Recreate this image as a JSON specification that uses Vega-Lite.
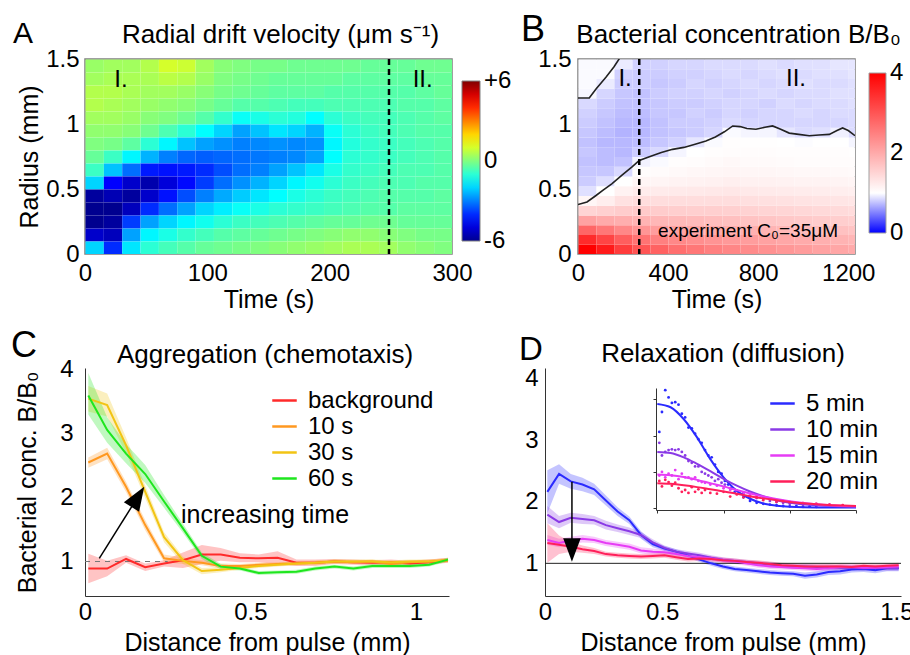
{
"$schema": "https://vega.github.io/schema/vega-lite/v6.json",
"padding": {"left": 10, "top": 11, "right": 2, "bottom": 2},
"spacing": 14,
"resolve": {"scale": {"color": "independent", "stroke": "independent", "fill": "independent"}, "legend": {"color": "independent", "stroke": "independent", "fill": "independent"}},
"vconcat": [
{"hconcat": [
 {"width": 367, "height": 195,
  "view": {"stroke": "#808080", "strokeWidth": 1.5},
  "title": {"text": "Radial drift velocity  (μm s⁻¹)", "dx": 12, "offset": -29, "frame": "group"},
  "layer": [
   {"data": {"name": "A"}, "mark": {"type": "rect", "clip": true, "binSpacing": 0},
    "encoding": {
     "x": {"field": "t", "type": "quantitative", "bin": {"binned": true, "step": 15}, "scale": {"domain": [0, 300], "nice": false, "zero": false}, "axis": {"values": [0, 100, 200, 300], "title": "Time (s)", "format": "d", "labelPadding": 7, "titlePadding": 2, "domain": false}},
     "y": {"field": "r", "type": "quantitative", "bin": {"binned": true, "step": 0.1}, "scale": {"domain": [0, 1.5], "nice": false, "zero": false}, "axis": {"values": [0, 0.5, 1, 1.5], "title": "Radius (mm)", "format": "~g", "labelPadding": 6, "titlePadding": 3, "domain": false}},
     "color": {"field": "v", "type": "quantitative", "scale": {"domain": [-6, -4.5, -1.5, 1.5, 4.5, 6], "range": ["#00008f", "#0000ff", "#00ffff", "#ffff00", "#ff0000", "#800000"], "interpolate": "rgb"},
       "legend": {"type": "gradient", "orient": "none", "legendX": 377, "legendY": 22, "direction": "vertical", "title": null, "gradientLength": 160, "gradientThickness": 18, "values": [-6, 0, 6], "labelExpr": "datum.value > 0 ? '+6' : datum.value < 0 ? '-6' : '0'", "labelFontSize": 24, "labelOffset": 4, "labelOverlap": false, "gradientStrokeColor": "#808080", "gradientStrokeWidth": 1, "encode": {"labels": {"update": {"baseline": {"value": "middle"}}}}}}
    }},
   {"data": {"values": [{}]}, "mark": {"type": "rule", "strokeDash": [6, 4], "strokeWidth": 2.5, "color": "black"}, "encoding": {"x": {"datum": 248.5}}},
   {"data": {"values": [{}]}, "mark": {"type": "text", "fontSize": 24, "align": "center", "baseline": "middle"}, "encoding": {"x": {"datum": 29.4}, "y": {"datum": 1.338}, "text": {"value": "I."}}},
   {"data": {"values": [{}]}, "mark": {"type": "text", "fontSize": 24, "align": "center", "baseline": "middle"}, "encoding": {"x": {"datum": 276}, "y": {"datum": 1.338}, "text": {"value": "II."}}},
   {"data": {"values": [{}]}, "mark": {"type": "text", "fontSize": 30, "align": "left", "baseline": "alphabetic"}, "encoding": {"x": {"datum": -58.9}, "y": {"datum": 1.625}, "text": {"value": "A"}}}
  ]},
 {"width": 277, "height": 195,
  "view": {"stroke": "#808080", "strokeWidth": 1.5},
  "title": {"text": "Bacterial concentration B/B₀", "dx": 22, "offset": -36, "frame": "group"},
  "layer": [
   {"data": {"name": "B"}, "mark": {"type": "rect", "clip": true, "binSpacing": 0},
    "encoding": {
     "x": {"field": "t", "type": "quantitative", "bin": {"binned": true, "step": 80}, "scale": {"domain": [0, 1230], "nice": false, "zero": false}, "axis": {"values": [0, 400, 800, 1200], "title": "Time (s)", "format": "d", "labelPadding": 7, "titlePadding": 2, "domain": false}},
     "y": {"field": "r", "type": "quantitative", "bin": {"binned": true, "step": 0.075}, "scale": {"domain": [0, 1.5], "nice": false, "zero": false}, "axis": {"values": [0, 0.5, 1, 1.5], "title": null, "format": "~g", "labelPadding": 7, "domain": false}},
     "color": {"field": "v", "type": "quantitative", "scale": {"domain": [0, 1, 4], "range": ["#0000ff", "#ffffff", "#ff0000"], "interpolate": "rgb"},
       "legend": {"type": "gradient", "orient": "none", "legendX": 291, "legendY": 14, "direction": "vertical", "title": null, "gradientLength": 160, "gradientThickness": 17, "values": [0, 2, 4], "labelFontSize": 24, "labelOffset": 4, "labelOverlap": false, "format": "d", "gradientStrokeColor": "#a0a0a0", "gradientStrokeWidth": 1, "encode": {"labels": {"update": {"baseline": {"value": "middle"}}}}}}
    }},
   {"data": {"name": "Bc"}, "mark": {"type": "line", "color": "#222222", "strokeWidth": 1.6, "clip": true}, "encoding": {"x": {"field": "t", "type": "quantitative"}, "y": {"field": "r", "type": "quantitative"}, "detail": {"field": "c"}}},
   {"data": {"values": [{}]}, "mark": {"type": "rule", "strokeDash": [6, 4], "strokeWidth": 2.5, "color": "black"}, "encoding": {"x": {"datum": 272}}},
   {"data": {"values": [{}]}, "mark": {"type": "text", "fontSize": 24, "align": "center", "baseline": "middle"}, "encoding": {"x": {"datum": 209}, "y": {"datum": 1.346}, "text": {"value": "I."}}},
   {"data": {"values": [{}]}, "mark": {"type": "text", "fontSize": 24, "align": "center", "baseline": "middle"}, "encoding": {"x": {"datum": 968}, "y": {"datum": 1.346}, "text": {"value": "II."}}},
   {"data": {"values": [{}]}, "mark": {"type": "text", "fontSize": 19, "align": "center", "baseline": "middle"}, "encoding": {"x": {"datum": 755}, "y": {"datum": 0.177}, "text": {"value": "experiment C₀=35μM"}}},
   {"data": {"values": [{}]}, "mark": {"type": "text", "fontSize": 36, "align": "left", "baseline": "alphabetic"}, "encoding": {"x": {"datum": -253}, "y": {"datum": 1.638}, "text": {"value": "B"}}}
  ]}
 ], "spacing": 126, "bounds": "flush",
 "resolve": {"scale": {"color": "independent"}, "legend": {"color": "independent"}}},
{"hconcat": [
 {"width": 364, "height": 228,
  "title": {"text": "Aggregation (chemotaxis)", "dx": -2, "offset": -40, "frame": "group"},
  "layer": [
   {"data": {"name": "C"}, "mark": {"type": "area", "fillOpacity": 0.28},
    "encoding": {
     "x": {"field": "x", "type": "quantitative", "scale": {"domain": [0, 1.1], "nice": false, "zero": false}, "axis": {"values": [0, 0.5, 1], "format": "~g", "title": "Distance from pulse (mm)", "labelPadding": 4, "titlePadding": 6}},
     "y": {"field": "lo", "type": "quantitative", "scale": {"domain": [0.46, 4.03], "nice": false, "zero": false}, "axis": {"values": [1, 2, 3, 4], "format": "~g", "title": "Bacterial conc. B/B₀", "labelPadding": 12, "titlePadding": 19}},
     "y2": {"field": "hi"},
     "fill": {"field": "s", "type": "nominal", "scale": {"domain": ["60 s", "30 s", "10 s", "background"], "range": ["#1ee61e", "#f2c414", "#ff9820", "#ff2a2a"]}, "legend": null}
    }},
   {"data": {"values": [{}]}, "mark": {"type": "rule", "strokeDash": [5, 5], "strokeWidth": 1, "color": "#777777"}, "encoding": {"x": {"datum": 0}, "x2": {"datum": 0.25}, "y": {"datum": 1}}},
   {"data": {"name": "C"}, "mark": {"type": "line", "strokeWidth": 2},
    "encoding": {
     "x": {"field": "x", "type": "quantitative"},
     "y": {"field": "y", "type": "quantitative"},
     "stroke": {"field": "s", "type": "nominal", "scale": {"domain": ["background", "10 s", "30 s", "60 s"], "range": ["#ff2a2a", "#ff9820", "#f2c414", "#1ee61e"]},
       "legend": {"orient": "none", "legendX": 186, "legendY": 19, "title": null, "symbolType": "stroke", "symbolSize": 600, "symbolStrokeWidth": 2.5, "labelFontSize": 24, "labelOffset": 10, "rowPadding": 0}}
    }},
   {"data": {"values": [{}]}, "mark": {"type": "rule", "strokeWidth": 1.5, "color": "black"}, "encoding": {"x": {"datum": 0.0432}, "y": {"datum": 1.05}, "x2": {"datum": 0.154}, "y2": {"datum": 1.965}}},
   {"data": {"values": [{}]}, "mark": {"type": "point", "shape": "M0,-1.3L-0.75,0.7L0.75,0.7Z", "filled": true, "color": "black", "opacity": 1, "size": 576, "angle": 32}, "encoding": {"x": {"datum": 0.154}, "y": {"datum": 1.965}}},
   {"data": {"values": [{}]}, "mark": {"type": "text", "fontSize": 25, "align": "left", "baseline": "middle"}, "encoding": {"x": {"datum": 0.29}, "y": {"datum": 1.736}, "text": {"value": "increasing time"}}},
   {"data": {"values": [{}]}, "mark": {"type": "text", "fontSize": 36, "align": "left", "baseline": "alphabetic"}, "encoding": {"x": {"datum": -0.224}, "y": {"datum": 4.207}, "text": {"value": "C"}}}
  ]},
 {"width": 356, "height": 228,
  "title": {"text": "Relaxation (diffusion)", "offset": -33, "frame": "group"},
  "resolve": {"scale": {"x": "independent", "y": "independent"}},
  "layer": [
   {"layer": [
    {"data": {"name": "D"}, "mark": {"type": "area", "fillOpacity": 0.28},
     "encoding": {
      "x": {"field": "x", "type": "quantitative", "scale": {"domain": [0, 1.52], "nice": false, "zero": false}, "axis": {"values": [0, 0.5, 1, 1.5], "format": "~g", "title": "Distance from pulse (mm)", "labelPadding": 4, "titlePadding": 6}},
      "y": {"field": "lo", "type": "quantitative", "scale": {"domain": [0.47, 4.17], "nice": false, "zero": false}, "axis": {"values": [1, 2, 3, 4], "format": "~g", "title": null, "labelPadding": 7}},
      "y2": {"field": "hi"},
      "fill": {"field": "s", "type": "nominal", "scale": {"domain": ["20 min", "15 min", "10 min", "5 min"], "range": ["#ff1f5a", "#e63cf5", "#8a3ae6", "#2b2bff"]}, "legend": null}
     }},
    {"data": {"values": [{}]}, "mark": {"type": "rule", "strokeWidth": 1, "color": "#222222"}, "encoding": {"y": {"datum": 1}}},
    {"data": {"name": "D"}, "mark": {"type": "line", "strokeWidth": 2},
     "encoding": {
      "x": {"field": "x", "type": "quantitative"},
      "y": {"field": "y", "type": "quantitative"},
      "stroke": {"field": "s", "type": "nominal", "scale": {"domain": ["5 min", "10 min", "15 min", "20 min"], "range": ["#2b2bff", "#8a3ae6", "#e63cf5", "#ff1f5a"]},
        "legend": {"orient": "none", "legendX": 224, "legendY": 22, "title": null, "symbolType": "stroke", "symbolSize": 600, "symbolStrokeWidth": 2.5, "labelFontSize": 24, "labelOffset": 10, "rowPadding": 0}}
     }},
    {"data": {"values": [{}]}, "mark": {"type": "rule", "strokeWidth": 1.5, "color": "black"}, "encoding": {"x": {"datum": 0.115}, "y": {"datum": 2.325}, "y2": {"datum": 1.273}}},
    {"data": {"values": [{}]}, "mark": {"type": "point", "shape": "M0,-1.3L-0.75,0.7L0.75,0.7Z", "filled": true, "color": "black", "opacity": 1, "size": 548, "angle": 180}, "encoding": {"x": {"datum": 0.115}, "y": {"datum": 1.273}}},
    {"data": {"values": [{}]}, "mark": {"type": "text", "fontSize": 33, "align": "left", "baseline": "alphabetic"}, "encoding": {"x": {"datum": -0.111}, "y": {"datum": 4.30}, "text": {"value": "D"}}}
   ]},
   {"layer": [
    {"data": {"name": "Ed"}, "mark": {"type": "point", "filled": true, "size": 8, "opacity": 1},
     "encoding": {
      "x": {"field": "x", "type": "quantitative", "scale": {"domain": [-0.02, 3.0], "range": [111, 311], "nice": false, "zero": false}, "axis": {"orient": "bottom", "offset": -86, "values": [0, 1, 2, 3], "labels": false, "title": null, "ticks": true, "tickSize": 3, "tickColor": "#333333", "domainColor": "#333333"}},
      "y": {"field": "y", "type": "quantitative", "scale": {"domain": [-0.05, 3.31], "range": [142, 20], "nice": false, "zero": false}, "axis": {"orient": "left", "offset": -111, "values": [0, 1, 2, 3], "labels": false, "title": null, "ticks": true, "tickSize": 3, "tickColor": "#333333", "domainColor": "#333333"}},
      "fill": {"field": "s", "type": "nominal", "scale": {"domain": ["20 min", "15 min", "10 min", "5 min"], "range": ["#ff1f5a", "#e63cf5", "#8a3ae6", "#2b2bff"]}, "legend": null}
     }},
    {"data": {"name": "Ef"}, "mark": {"type": "line", "strokeWidth": 2, "interpolate": "monotone"},
     "encoding": {
      "x": {"field": "x", "type": "quantitative"},
      "y": {"field": "y", "type": "quantitative"},
      "stroke": {"field": "s", "type": "nominal", "scale": {"domain": ["5 min", "10 min", "15 min", "20 min"], "range": ["#2b2bff", "#8a3ae6", "#e63cf5", "#ff1f5a"]}, "legend": null}
     }}
   ]}
  ]}
 ], "spacing": 96, "bounds": "flush",
 "resolve": {"scale": {"stroke": "independent", "fill": "independent"}, "legend": {"stroke": "independent", "fill": "independent"}}}
],
"datasets": {
"A": [
{"t":0,"r":1.4,"v":0.3},{"t":15,"r":1.4,"v":0.4},{"t":30,"r":1.4,"v":0.4},{"t":45,"r":1.4,"v":0.6},{"t":60,"r":1.4,"v":1.0},{"t":75,"r":1.4,"v":0.9},{"t":90,"r":1.4,"v":0.4},{"t":105,"r":1.4,"v":0.1},{"t":120,"r":1.4,"v":0},{"t":135,"r":1.4,"v":-0.1},{"t":150,"r":1.4,"v":-0.1},{"t":165,"r":1.4,"v":-0.2},{"t":180,"r":1.4,"v":-0.2},{"t":195,"r":1.4,"v":-0.2},{"t":210,"r":1.4,"v":-0.2},{"t":225,"r":1.4,"v":-0.3},{"t":240,"r":1.4,"v":-0.3},{"t":255,"r":1.4,"v":-0.3},{"t":270,"r":1.4,"v":-0.2},{"t":285,"r":1.4,"v":-0.2},
{"t":0,"r":1.3,"v":0.4},{"t":15,"r":1.3,"v":0.5},{"t":30,"r":1.3,"v":0.5},{"t":45,"r":1.3,"v":0.5},{"t":60,"r":1.3,"v":0.7},{"t":75,"r":1.3,"v":0.6},{"t":90,"r":1.3,"v":0.3},{"t":105,"r":1.3,"v":0},{"t":120,"r":1.3,"v":-0.1},{"t":135,"r":1.3,"v":-0.2},{"t":150,"r":1.3,"v":-0.3},{"t":165,"r":1.3,"v":-0.3},{"t":180,"r":1.3,"v":-0.3},{"t":195,"r":1.3,"v":-0.3},{"t":210,"r":1.3,"v":-0.4},{"t":225,"r":1.3,"v":-0.4},{"t":240,"r":1.3,"v":-0.4},{"t":255,"r":1.3,"v":-0.4},{"t":270,"r":1.3,"v":-0.3},{"t":285,"r":1.3,"v":-0.3},
{"t":0,"r":1.2,"v":0.6},{"t":15,"r":1.2,"v":0.6},{"t":30,"r":1.2,"v":0.5},{"t":45,"r":1.2,"v":0.4},{"t":60,"r":1.2,"v":0.4},{"t":75,"r":1.2,"v":0.3},{"t":90,"r":1.2,"v":0.1},{"t":105,"r":1.2,"v":-0.1},{"t":120,"r":1.2,"v":-0.2},{"t":135,"r":1.2,"v":-0.3},{"t":150,"r":1.2,"v":-0.4},{"t":165,"r":1.2,"v":-0.4},{"t":180,"r":1.2,"v":-0.4},{"t":195,"r":1.2,"v":-0.5},{"t":210,"r":1.2,"v":-0.5},{"t":225,"r":1.2,"v":-0.5},{"t":240,"r":1.2,"v":-0.5},{"t":255,"r":1.2,"v":-0.5},{"t":270,"r":1.2,"v":-0.4},{"t":285,"r":1.2,"v":-0.3},
{"t":0,"r":1.1,"v":0.6},{"t":15,"r":1.1,"v":0.5},{"t":30,"r":1.1,"v":0.4},{"t":45,"r":1.1,"v":0.3},{"t":60,"r":1.1,"v":0.2},{"t":75,"r":1.1,"v":0.1},{"t":90,"r":1.1,"v":-0.1},{"t":105,"r":1.1,"v":-0.3},{"t":120,"r":1.1,"v":-0.5},{"t":135,"r":1.1,"v":-0.5},{"t":150,"r":1.1,"v":-0.6},{"t":165,"r":1.1,"v":-0.7},{"t":180,"r":1.1,"v":-0.7},{"t":195,"r":1.1,"v":-0.6},{"t":210,"r":1.1,"v":-0.6},{"t":225,"r":1.1,"v":-0.6},{"t":240,"r":1.1,"v":-0.6},{"t":255,"r":1.1,"v":-0.5},{"t":270,"r":1.1,"v":-0.5},{"t":285,"r":1.1,"v":-0.4},
{"t":0,"r":1.0,"v":0.4},{"t":15,"r":1.0,"v":0.4},{"t":30,"r":1.0,"v":0.3},{"t":45,"r":1.0,"v":0.1},{"t":60,"r":1.0,"v":0},{"t":75,"r":1.0,"v":-0.2},{"t":90,"r":1.0,"v":-0.5},{"t":105,"r":1.0,"v":-0.9},{"t":120,"r":1.0,"v":-1.4},{"t":135,"r":1.0,"v":-1.2},{"t":150,"r":1.0,"v":-1.0},{"t":165,"r":1.0,"v":-1.1},{"t":180,"r":1.0,"v":-1.5},{"t":195,"r":1.0,"v":-1.0},{"t":210,"r":1.0,"v":-0.8},{"t":225,"r":1.0,"v":-0.7},{"t":240,"r":1.0,"v":-0.7},{"t":255,"r":1.0,"v":-0.6},{"t":270,"r":1.0,"v":-0.5},{"t":285,"r":1.0,"v":-0.4},
{"t":0,"r":0.9,"v":0.2},{"t":15,"r":0.9,"v":0.2},{"t":30,"r":0.9,"v":0.1},{"t":45,"r":0.9,"v":-0.2},{"t":60,"r":0.9,"v":-0.6},{"t":75,"r":0.9,"v":-1.0},{"t":90,"r":0.9,"v":-1.5},{"t":105,"r":0.9,"v":-2.0},{"t":120,"r":0.9,"v":-2.6},{"t":135,"r":0.9,"v":-2.2},{"t":150,"r":0.9,"v":-1.8},{"t":165,"r":0.9,"v":-2.0},{"t":180,"r":0.9,"v":-2.4},{"t":195,"r":0.9,"v":-1.4},{"t":210,"r":0.9,"v":-1.0},{"t":225,"r":0.9,"v":-0.8},{"t":240,"r":0.9,"v":-0.7},{"t":255,"r":0.9,"v":-0.6},{"t":270,"r":0.9,"v":-0.5},{"t":285,"r":0.9,"v":-0.5},
{"t":0,"r":0.8,"v":0},{"t":15,"r":0.8,"v":-0.1},{"t":30,"r":0.8,"v":-0.4},{"t":45,"r":0.8,"v":-1.0},{"t":60,"r":0.8,"v":-1.6},{"t":75,"r":0.8,"v":-2.2},{"t":90,"r":0.8,"v":-2.6},{"t":105,"r":0.8,"v":-2.8},{"t":120,"r":0.8,"v":-3.0},{"t":135,"r":0.8,"v":-2.9},{"t":150,"r":0.8,"v":-2.8},{"t":165,"r":0.8,"v":-2.9},{"t":180,"r":0.8,"v":-2.8},{"t":195,"r":0.8,"v":-1.6},{"t":210,"r":0.8,"v":-1.1},{"t":225,"r":0.8,"v":-0.9},{"t":240,"r":0.8,"v":-0.8},{"t":255,"r":0.8,"v":-0.7},{"t":270,"r":0.8,"v":-0.6},{"t":285,"r":0.8,"v":-0.5},
{"t":0,"r":0.7,"v":-0.3},{"t":15,"r":0.7,"v":-0.8},{"t":30,"r":0.7,"v":-1.6},{"t":45,"r":0.7,"v":-2.4},{"t":60,"r":0.7,"v":-3.0},{"t":75,"r":0.7,"v":-3.3},{"t":90,"r":0.7,"v":-3.4},{"t":105,"r":0.7,"v":-3.3},{"t":120,"r":0.7,"v":-3.2},{"t":135,"r":0.7,"v":-3.1},{"t":150,"r":0.7,"v":-3.0},{"t":165,"r":0.7,"v":-2.9},{"t":180,"r":0.7,"v":-2.6},{"t":195,"r":0.7,"v":-1.5},{"t":210,"r":0.7,"v":-1.0},{"t":225,"r":0.7,"v":-0.9},{"t":240,"r":0.7,"v":-0.8},{"t":255,"r":0.7,"v":-0.7},{"t":270,"r":0.7,"v":-0.6},{"t":285,"r":0.7,"v":-0.5},
{"t":0,"r":0.6,"v":-0.8},{"t":15,"r":0.6,"v":-2.2},{"t":30,"r":0.6,"v":-3.2},{"t":45,"r":0.6,"v":-4.2},{"t":60,"r":0.6,"v":-4.3},{"t":75,"r":0.6,"v":-4.2},{"t":90,"r":0.6,"v":-4.0},{"t":105,"r":0.6,"v":-3.6},{"t":120,"r":0.6,"v":-3.2},{"t":135,"r":0.6,"v":-3.0},{"t":150,"r":0.6,"v":-2.6},{"t":165,"r":0.6,"v":-2.2},{"t":180,"r":0.6,"v":-1.8},{"t":195,"r":0.6,"v":-1.2},{"t":210,"r":0.6,"v":-0.9},{"t":225,"r":0.6,"v":-0.8},{"t":240,"r":0.6,"v":-0.7},{"t":255,"r":0.6,"v":-0.6},{"t":270,"r":0.6,"v":-0.6},{"t":285,"r":0.6,"v":-0.5},
{"t":0,"r":0.5,"v":-2.0},{"t":15,"r":0.5,"v":-4.5},{"t":30,"r":0.5,"v":-5.2},{"t":45,"r":0.5,"v":-5.6},{"t":60,"r":0.5,"v":-5.0},{"t":75,"r":0.5,"v":-4.4},{"t":90,"r":0.5,"v":-3.8},{"t":105,"r":0.5,"v":-3.2},{"t":120,"r":0.5,"v":-2.8},{"t":135,"r":0.5,"v":-2.4},{"t":150,"r":0.5,"v":-2.0},{"t":165,"r":0.5,"v":-1.6},{"t":180,"r":0.5,"v":-1.3},{"t":195,"r":0.5,"v":-1.0},{"t":210,"r":0.5,"v":-0.8},{"t":225,"r":0.5,"v":-0.7},{"t":240,"r":0.5,"v":-0.6},{"t":255,"r":0.5,"v":-0.6},{"t":270,"r":0.5,"v":-0.5},{"t":285,"r":0.5,"v":-0.5},
{"t":0,"r":0.4,"v":-5.8},{"t":15,"r":0.4,"v":-5.5},{"t":30,"r":0.4,"v":-5.8},{"t":45,"r":0.4,"v":-5.2},{"t":60,"r":0.4,"v":-4.3},{"t":75,"r":0.4,"v":-3.6},{"t":90,"r":0.4,"v":-3.0},{"t":105,"r":0.4,"v":-2.5},{"t":120,"r":0.4,"v":-2.1},{"t":135,"r":0.4,"v":-1.8},{"t":150,"r":0.4,"v":-1.5},{"t":165,"r":0.4,"v":-1.2},{"t":180,"r":0.4,"v":-1.0},{"t":195,"r":0.4,"v":-0.8},{"t":210,"r":0.4,"v":-0.7},{"t":225,"r":0.4,"v":-0.6},{"t":240,"r":0.4,"v":-0.5},{"t":255,"r":0.4,"v":-0.5},{"t":270,"r":0.4,"v":-0.5},{"t":285,"r":0.4,"v":-0.4},
{"t":0,"r":0.3,"v":-6.0},{"t":15,"r":0.3,"v":-6.0},{"t":30,"r":0.3,"v":-5.4},{"t":45,"r":0.3,"v":-4.0},{"t":60,"r":0.3,"v":-3.2},{"t":75,"r":0.3,"v":-2.6},{"t":90,"r":0.3,"v":-2.0},{"t":105,"r":0.3,"v":-1.7},{"t":120,"r":0.3,"v":-1.4},{"t":135,"r":0.3,"v":-1.2},{"t":150,"r":0.3,"v":-1.0},{"t":165,"r":0.3,"v":-0.9},{"t":180,"r":0.3,"v":-0.8},{"t":195,"r":0.3,"v":-0.7},{"t":210,"r":0.3,"v":-0.6},{"t":225,"r":0.3,"v":-0.5},{"t":240,"r":0.3,"v":-0.5},{"t":255,"r":0.3,"v":-0.4},{"t":270,"r":0.3,"v":-0.4},{"t":285,"r":0.3,"v":-0.4},
{"t":0,"r":0.2,"v":-6.0},{"t":15,"r":0.2,"v":-5.8},{"t":30,"r":0.2,"v":-3.8},{"t":45,"r":0.2,"v":-2.6},{"t":60,"r":0.2,"v":-2.0},{"t":75,"r":0.2,"v":-1.6},{"t":90,"r":0.2,"v":-1.3},{"t":105,"r":0.2,"v":-1.0},{"t":120,"r":0.2,"v":-0.8},{"t":135,"r":0.2,"v":-0.7},{"t":150,"r":0.2,"v":-0.6},{"t":165,"r":0.2,"v":-0.5},{"t":180,"r":0.2,"v":-0.4},{"t":195,"r":0.2,"v":-0.3},{"t":210,"r":0.2,"v":-0.3},{"t":225,"r":0.2,"v":-0.2},{"t":240,"r":0.2,"v":-0.2},{"t":255,"r":0.2,"v":-0.3},{"t":270,"r":0.2,"v":-0.3},{"t":285,"r":0.2,"v":-0.3},
{"t":0,"r":0.1,"v":-5.2},{"t":15,"r":0.1,"v":-5.4},{"t":30,"r":0.1,"v":-2.6},{"t":45,"r":0.1,"v":-1.6},{"t":60,"r":0.1,"v":-1.2},{"t":75,"r":0.1,"v":-0.9},{"t":90,"r":0.1,"v":-0.7},{"t":105,"r":0.1,"v":-0.5},{"t":120,"r":0.1,"v":-0.4},{"t":135,"r":0.1,"v":-0.3},{"t":150,"r":0.1,"v":-0.2},{"t":165,"r":0.1,"v":-0.1},{"t":180,"r":0.1,"v":0},{"t":195,"r":0.1,"v":0.1},{"t":210,"r":0.1,"v":0.2},{"t":225,"r":0.1,"v":0.2},{"t":240,"r":0.1,"v":0.1},{"t":255,"r":0.1,"v":0},{"t":270,"r":0.1,"v":-0.1},{"t":285,"r":0.1,"v":-0.1},
{"t":0,"r":0,"v":-2.0},{"t":15,"r":0,"v":-4.0},{"t":30,"r":0,"v":-1.8},{"t":45,"r":0,"v":-1.0},{"t":60,"r":0,"v":-0.7},{"t":75,"r":0,"v":-0.5},{"t":90,"r":0,"v":-0.3},{"t":105,"r":0,"v":-0.2},{"t":120,"r":0,"v":-0.1},{"t":135,"r":0,"v":0},{"t":150,"r":0,"v":0.1},{"t":165,"r":0,"v":0.2},{"t":180,"r":0,"v":0.3},{"t":195,"r":0,"v":0.4},{"t":210,"r":0,"v":0.5},{"t":225,"r":0,"v":0.5},{"t":240,"r":0,"v":0.4},{"t":255,"r":0,"v":0.2},{"t":270,"r":0,"v":0.1},{"t":285,"r":0,"v":0}
],
"B": [
{"t":0,"r":0,"v":4.0},{"t":0,"r":0.075,"v":3.5},{"t":0,"r":0.15,"v":2.8},{"t":0,"r":0.225,"v":2.1},{"t":0,"r":0.3,"v":1.5},{"t":0,"r":0.375,"v":1.1},{"t":0,"r":0.45,"v":0.88},{"t":0,"r":0.525,"v":0.8},{"t":0,"r":0.6,"v":0.78},{"t":0,"r":0.675,"v":0.76},{"t":0,"r":0.75,"v":0.78},{"t":0,"r":0.825,"v":0.76},{"t":0,"r":0.9,"v":0.78},{"t":0,"r":0.975,"v":0.8},{"t":0,"r":1.05,"v":0.82},{"t":0,"r":1.125,"v":0.85},{"t":0,"r":1.2,"v":0.97},{"t":0,"r":1.275,"v":0.98},{"t":0,"r":1.35,"v":0.98},{"t":0,"r":1.425,"v":0.98},
{"t":80,"r":0,"v":3.7},{"t":80,"r":0.075,"v":3.2},{"t":80,"r":0.15,"v":2.6},{"t":80,"r":0.225,"v":2.0},{"t":80,"r":0.3,"v":1.55},{"t":80,"r":0.375,"v":1.2},{"t":80,"r":0.45,"v":1.0},{"t":80,"r":0.525,"v":0.87},{"t":80,"r":0.6,"v":0.78},{"t":80,"r":0.675,"v":0.74},{"t":80,"r":0.75,"v":0.74},{"t":80,"r":0.825,"v":0.72},{"t":80,"r":0.9,"v":0.74},{"t":80,"r":0.975,"v":0.76},{"t":80,"r":1.05,"v":0.78},{"t":80,"r":1.125,"v":0.8},{"t":80,"r":1.2,"v":0.84},{"t":80,"r":1.275,"v":0.92},{"t":80,"r":1.35,"v":0.98},{"t":80,"r":1.425,"v":0.98},
{"t":160,"r":0,"v":3.3},{"t":160,"r":0.075,"v":2.9},{"t":160,"r":0.15,"v":2.4},{"t":160,"r":0.225,"v":1.95},{"t":160,"r":0.3,"v":1.6},{"t":160,"r":0.375,"v":1.35},{"t":160,"r":0.45,"v":1.15},{"t":160,"r":0.525,"v":1.0},{"t":160,"r":0.6,"v":0.85},{"t":160,"r":0.675,"v":0.76},{"t":160,"r":0.75,"v":0.72},{"t":160,"r":0.825,"v":0.72},{"t":160,"r":0.9,"v":0.7},{"t":160,"r":0.975,"v":0.72},{"t":160,"r":1.05,"v":0.74},{"t":160,"r":1.125,"v":0.76},{"t":160,"r":1.2,"v":0.78},{"t":160,"r":1.275,"v":0.8},{"t":160,"r":1.35,"v":0.82},{"t":160,"r":1.425,"v":0.92},
{"t":240,"r":0,"v":3.0},{"t":240,"r":0.075,"v":2.65},{"t":240,"r":0.15,"v":2.25},{"t":240,"r":0.225,"v":1.9},{"t":240,"r":0.3,"v":1.62},{"t":240,"r":0.375,"v":1.4},{"t":240,"r":0.45,"v":1.22},{"t":240,"r":0.525,"v":1.1},{"t":240,"r":0.6,"v":1.02},{"t":240,"r":0.675,"v":0.95},{"t":240,"r":0.75,"v":0.8},{"t":240,"r":0.825,"v":0.74},{"t":240,"r":0.9,"v":0.72},{"t":240,"r":0.975,"v":0.72},{"t":240,"r":1.05,"v":0.74},{"t":240,"r":1.125,"v":0.76},{"t":240,"r":1.2,"v":0.76},{"t":240,"r":1.275,"v":0.8},{"t":240,"r":1.35,"v":0.8},{"t":240,"r":1.425,"v":0.82},
{"t":320,"r":0,"v":2.85},{"t":320,"r":0.075,"v":2.5},{"t":320,"r":0.15,"v":2.15},{"t":320,"r":0.225,"v":1.85},{"t":320,"r":0.3,"v":1.6},{"t":320,"r":0.375,"v":1.4},{"t":320,"r":0.45,"v":1.24},{"t":320,"r":0.525,"v":1.12},{"t":320,"r":0.6,"v":1.05},{"t":320,"r":0.675,"v":0.98},{"t":320,"r":0.75,"v":0.85},{"t":320,"r":0.825,"v":0.78},{"t":320,"r":0.9,"v":0.76},{"t":320,"r":0.975,"v":0.76},{"t":320,"r":1.05,"v":0.78},{"t":320,"r":1.125,"v":0.78},{"t":320,"r":1.2,"v":0.8},{"t":320,"r":1.275,"v":0.78},{"t":320,"r":1.35,"v":0.8},{"t":320,"r":1.425,"v":0.82},
{"t":400,"r":0,"v":2.7},{"t":400,"r":0.075,"v":2.4},{"t":400,"r":0.15,"v":2.1},{"t":400,"r":0.225,"v":1.82},{"t":400,"r":0.3,"v":1.58},{"t":400,"r":0.375,"v":1.4},{"t":400,"r":0.45,"v":1.25},{"t":400,"r":0.525,"v":1.14},{"t":400,"r":0.6,"v":1.07},{"t":400,"r":0.675,"v":1.02},{"t":400,"r":0.75,"v":0.96},{"t":400,"r":0.825,"v":0.82},{"t":400,"r":0.9,"v":0.78},{"t":400,"r":0.975,"v":0.8},{"t":400,"r":1.05,"v":0.78},{"t":400,"r":1.125,"v":0.8},{"t":400,"r":1.2,"v":0.82},{"t":400,"r":1.275,"v":0.8},{"t":400,"r":1.35,"v":0.82},{"t":400,"r":1.425,"v":0.84},
{"t":480,"r":0,"v":2.6},{"t":480,"r":0.075,"v":2.33},{"t":480,"r":0.15,"v":2.05},{"t":480,"r":0.225,"v":1.8},{"t":480,"r":0.3,"v":1.57},{"t":480,"r":0.375,"v":1.4},{"t":480,"r":0.45,"v":1.26},{"t":480,"r":0.525,"v":1.15},{"t":480,"r":0.6,"v":1.09},{"t":480,"r":0.675,"v":1.04},{"t":480,"r":0.75,"v":1.0},{"t":480,"r":0.825,"v":0.9},{"t":480,"r":0.9,"v":0.8},{"t":480,"r":0.975,"v":0.8},{"t":480,"r":1.05,"v":0.82},{"t":480,"r":1.125,"v":0.8},{"t":480,"r":1.2,"v":0.82},{"t":480,"r":1.275,"v":0.84},{"t":480,"r":1.35,"v":0.82},{"t":480,"r":1.425,"v":0.84},
{"t":560,"r":0,"v":2.5},{"t":560,"r":0.075,"v":2.26},{"t":560,"r":0.15,"v":2.0},{"t":560,"r":0.225,"v":1.77},{"t":560,"r":0.3,"v":1.56},{"t":560,"r":0.375,"v":1.4},{"t":560,"r":0.45,"v":1.27},{"t":560,"r":0.525,"v":1.17},{"t":560,"r":0.6,"v":1.1},{"t":560,"r":0.675,"v":1.06},{"t":560,"r":0.75,"v":1.02},{"t":560,"r":0.825,"v":0.98},{"t":560,"r":0.9,"v":0.84},{"t":560,"r":0.975,"v":0.82},{"t":560,"r":1.05,"v":0.8},{"t":560,"r":1.125,"v":0.82},{"t":560,"r":1.2,"v":0.84},{"t":560,"r":1.275,"v":0.82},{"t":560,"r":1.35,"v":0.84},{"t":560,"r":1.425,"v":0.86},
{"t":640,"r":0,"v":2.42},{"t":640,"r":0.075,"v":2.2},{"t":640,"r":0.15,"v":1.96},{"t":640,"r":0.225,"v":1.74},{"t":640,"r":0.3,"v":1.55},{"t":640,"r":0.375,"v":1.4},{"t":640,"r":0.45,"v":1.28},{"t":640,"r":0.525,"v":1.19},{"t":640,"r":0.6,"v":1.12},{"t":640,"r":0.675,"v":1.08},{"t":640,"r":0.75,"v":1.04},{"t":640,"r":0.825,"v":1.02},{"t":640,"r":0.9,"v":0.98},{"t":640,"r":0.975,"v":0.86},{"t":640,"r":1.05,"v":0.84},{"t":640,"r":1.125,"v":0.84},{"t":640,"r":1.2,"v":0.82},{"t":640,"r":1.275,"v":0.84},{"t":640,"r":1.35,"v":0.86},{"t":640,"r":1.425,"v":0.86},
{"t":720,"r":0,"v":2.36},{"t":720,"r":0.075,"v":2.15},{"t":720,"r":0.15,"v":1.92},{"t":720,"r":0.225,"v":1.71},{"t":720,"r":0.3,"v":1.53},{"t":720,"r":0.375,"v":1.38},{"t":720,"r":0.45,"v":1.26},{"t":720,"r":0.525,"v":1.17},{"t":720,"r":0.6,"v":1.1},{"t":720,"r":0.675,"v":1.06},{"t":720,"r":0.75,"v":1.03},{"t":720,"r":0.825,"v":1.01},{"t":720,"r":0.9,"v":0.96},{"t":720,"r":0.975,"v":0.84},{"t":720,"r":1.05,"v":0.82},{"t":720,"r":1.125,"v":0.84},{"t":720,"r":1.2,"v":0.84},{"t":720,"r":1.275,"v":0.86},{"t":720,"r":1.35,"v":0.84},{"t":720,"r":1.425,"v":0.86},
{"t":800,"r":0,"v":2.3},{"t":800,"r":0.075,"v":2.1},{"t":800,"r":0.15,"v":1.88},{"t":800,"r":0.225,"v":1.68},{"t":800,"r":0.3,"v":1.51},{"t":800,"r":0.375,"v":1.37},{"t":800,"r":0.45,"v":1.25},{"t":800,"r":0.525,"v":1.16},{"t":800,"r":0.6,"v":1.1},{"t":800,"r":0.675,"v":1.06},{"t":800,"r":0.75,"v":1.03},{"t":800,"r":0.825,"v":1.01},{"t":800,"r":0.9,"v":0.96},{"t":800,"r":0.975,"v":0.84},{"t":800,"r":1.05,"v":0.84},{"t":800,"r":1.125,"v":0.82},{"t":800,"r":1.2,"v":0.86},{"t":800,"r":1.275,"v":0.84},{"t":800,"r":1.35,"v":0.86},{"t":800,"r":1.425,"v":0.88},
{"t":880,"r":0,"v":2.22},{"t":880,"r":0.075,"v":2.04},{"t":880,"r":0.15,"v":1.84},{"t":880,"r":0.225,"v":1.65},{"t":880,"r":0.3,"v":1.49},{"t":880,"r":0.375,"v":1.35},{"t":880,"r":0.45,"v":1.24},{"t":880,"r":0.525,"v":1.15},{"t":880,"r":0.6,"v":1.09},{"t":880,"r":0.675,"v":1.05},{"t":880,"r":0.75,"v":1.02},{"t":880,"r":0.825,"v":1.0},{"t":880,"r":0.9,"v":0.9},{"t":880,"r":0.975,"v":0.84},{"t":880,"r":1.05,"v":0.84},{"t":880,"r":1.125,"v":0.86},{"t":880,"r":1.2,"v":0.84},{"t":880,"r":1.275,"v":0.86},{"t":880,"r":1.35,"v":0.88},{"t":880,"r":1.425,"v":0.86},
{"t":960,"r":0,"v":2.16},{"t":960,"r":0.075,"v":1.99},{"t":960,"r":0.15,"v":1.8},{"t":960,"r":0.225,"v":1.62},{"t":960,"r":0.3,"v":1.47},{"t":960,"r":0.375,"v":1.33},{"t":960,"r":0.45,"v":1.22},{"t":960,"r":0.525,"v":1.14},{"t":960,"r":0.6,"v":1.08},{"t":960,"r":0.675,"v":1.04},{"t":960,"r":0.75,"v":1.02},{"t":960,"r":0.825,"v":0.99},{"t":960,"r":0.9,"v":0.86},{"t":960,"r":0.975,"v":0.84},{"t":960,"r":1.05,"v":0.86},{"t":960,"r":1.125,"v":0.84},{"t":960,"r":1.2,"v":0.86},{"t":960,"r":1.275,"v":0.88},{"t":960,"r":1.35,"v":0.86},{"t":960,"r":1.425,"v":0.88},
{"t":1040,"r":0,"v":2.1},{"t":1040,"r":0.075,"v":1.94},{"t":1040,"r":0.15,"v":1.76},{"t":1040,"r":0.225,"v":1.6},{"t":1040,"r":0.3,"v":1.45},{"t":1040,"r":0.375,"v":1.32},{"t":1040,"r":0.45,"v":1.21},{"t":1040,"r":0.525,"v":1.14},{"t":1040,"r":0.6,"v":1.08},{"t":1040,"r":0.675,"v":1.04},{"t":1040,"r":0.75,"v":1.02},{"t":1040,"r":0.825,"v":1.0},{"t":1040,"r":0.9,"v":0.88},{"t":1040,"r":0.975,"v":0.84},{"t":1040,"r":1.05,"v":0.84},{"t":1040,"r":1.125,"v":0.86},{"t":1040,"r":1.2,"v":0.86},{"t":1040,"r":1.275,"v":0.86},{"t":1040,"r":1.35,"v":0.88},{"t":1040,"r":1.425,"v":0.88},
{"t":1120,"r":0,"v":2.05},{"t":1120,"r":0.075,"v":1.9},{"t":1120,"r":0.15,"v":1.73},{"t":1120,"r":0.225,"v":1.58},{"t":1120,"r":0.3,"v":1.43},{"t":1120,"r":0.375,"v":1.31},{"t":1120,"r":0.45,"v":1.2},{"t":1120,"r":0.525,"v":1.13},{"t":1120,"r":0.6,"v":1.07},{"t":1120,"r":0.675,"v":1.04},{"t":1120,"r":0.75,"v":1.02},{"t":1120,"r":0.825,"v":1.0},{"t":1120,"r":0.9,"v":0.94},{"t":1120,"r":0.975,"v":0.84},{"t":1120,"r":1.05,"v":0.86},{"t":1120,"r":1.125,"v":0.86},{"t":1120,"r":1.2,"v":0.88},{"t":1120,"r":1.275,"v":0.86},{"t":1120,"r":1.35,"v":0.88},{"t":1120,"r":1.425,"v":0.9},
{"t":1200,"r":0,"v":2.0},{"t":1200,"r":0.075,"v":1.86},{"t":1200,"r":0.15,"v":1.7},{"t":1200,"r":0.225,"v":1.55},{"t":1200,"r":0.3,"v":1.41},{"t":1200,"r":0.375,"v":1.29},{"t":1200,"r":0.45,"v":1.19},{"t":1200,"r":0.525,"v":1.12},{"t":1200,"r":0.6,"v":1.06},{"t":1200,"r":0.675,"v":1.03},{"t":1200,"r":0.75,"v":1.01},{"t":1200,"r":0.825,"v":0.96},{"t":1200,"r":0.9,"v":0.86},{"t":1200,"r":0.975,"v":0.86},{"t":1200,"r":1.05,"v":0.86},{"t":1200,"r":1.125,"v":0.88},{"t":1200,"r":1.2,"v":0.88},{"t":1200,"r":1.275,"v":0.88},{"t":1200,"r":1.35,"v":0.9},{"t":1200,"r":1.425,"v":0.9}
],
"Bc": [
{"c":"a","t":0,"r":1.2},{"c":"a","t":50,"r":1.2},{"c":"a","t":80,"r":1.27},{"c":"a","t":124,"r":1.36},{"c":"a","t":160,"r":1.44},{"c":"a","t":190,"r":1.52},
{"c":"b","t":0,"r":0.38},{"c":"b","t":40,"r":0.4},{"c":"b","t":80,"r":0.45},{"c":"b","t":110,"r":0.49},{"c":"b","t":150,"r":0.54},{"c":"b","t":198,"r":0.61},{"c":"b","t":240,"r":0.67},{"c":"b","t":272,"r":0.72},{"c":"b","t":320,"r":0.75},{"c":"b","t":370,"r":0.78},{"c":"b","t":420,"r":0.805},{"c":"b","t":470,"r":0.82},{"c":"b","t":520,"r":0.845},{"c":"b","t":568,"r":0.87},{"c":"b","t":610,"r":0.9},{"c":"b","t":650,"r":0.94},{"c":"b","t":687,"r":0.985},{"c":"b","t":720,"r":0.98},{"c":"b","t":750,"r":0.965},{"c":"b","t":790,"r":0.96},{"c":"b","t":830,"r":0.975},{"c":"b","t":864,"r":0.985},{"c":"b","t":900,"r":0.96},{"c":"b","t":938,"r":0.93},{"c":"b","t":980,"r":0.92},{"c":"b","t":1027,"r":0.91},{"c":"b","t":1070,"r":0.915},{"c":"b","t":1116,"r":0.92},{"c":"b","t":1150,"r":0.95},{"c":"b","t":1175,"r":0.97},{"c":"b","t":1200,"r":0.95},{"c":"b","t":1230,"r":0.91}
],
"C": [
{"s":"background","x":0.010,"y":0.89,"lo":0.66,"hi":1.12},{"s":"background","x":0.067,"y":0.89,"lo":0.77,"hi":1.01},{"s":"background","x":0.124,"y":1.04,"lo":0.98,"hi":1.10},{"s":"background","x":0.182,"y":0.91,"lo":0.85,"hi":0.97},{"s":"background","x":0.239,"y":0.97,"lo":0.92,"hi":1.02},{"s":"background","x":0.296,"y":1.02,"lo":0.90,"hi":1.14},{"s":"background","x":0.353,"y":1.11,"lo":0.96,"hi":1.26},{"s":"background","x":0.410,"y":1.11,"lo":1.01,"hi":1.21},{"s":"background","x":0.468,"y":1.06,"lo":0.99,"hi":1.13},{"s":"background","x":0.525,"y":1.05,"lo":0.99,"hi":1.11},{"s":"background","x":0.582,"y":1.06,"lo":0.96,"hi":1.16},{"s":"background","x":0.639,"y":0.98,"lo":0.93,"hi":1.03},{"s":"background","x":0.696,"y":0.98,"lo":0.93,"hi":1.03},{"s":"background","x":0.754,"y":1.0,"lo":0.96,"hi":1.04},{"s":"background","x":0.811,"y":0.99,"lo":0.95,"hi":1.03},{"s":"background","x":0.868,"y":0.98,"lo":0.94,"hi":1.02},{"s":"background","x":0.925,"y":0.99,"lo":0.95,"hi":1.03},{"s":"background","x":0.982,"y":0.97,"lo":0.93,"hi":1.01},{"s":"background","x":1.040,"y":0.99,"lo":0.95,"hi":1.03},{"s":"background","x":1.097,"y":1.02,"lo":0.98,"hi":1.06},
{"s":"10 s","x":0.010,"y":2.55,"lo":2.47,"hi":2.63},{"s":"10 s","x":0.067,"y":2.69,"lo":2.60,"hi":2.78},{"s":"10 s","x":0.124,"y":2.17,"lo":2.09,"hi":2.25},{"s":"10 s","x":0.182,"y":1.57,"lo":1.49,"hi":1.65},{"s":"10 s","x":0.239,"y":1.05,"lo":0.99,"hi":1.11},{"s":"10 s","x":0.296,"y":1.01,"lo":0.96,"hi":1.06},{"s":"10 s","x":0.353,"y":0.98,"lo":0.94,"hi":1.02},{"s":"10 s","x":0.410,"y":0.93,"lo":0.89,"hi":0.97},{"s":"10 s","x":0.468,"y":0.93,"lo":0.90,"hi":0.96},{"s":"10 s","x":0.525,"y":0.95,"lo":0.92,"hi":0.98},{"s":"10 s","x":0.582,"y":0.96,"lo":0.93,"hi":0.99},{"s":"10 s","x":0.639,"y":0.97,"lo":0.94,"hi":1.0},{"s":"10 s","x":0.696,"y":0.98,"lo":0.95,"hi":1.01},{"s":"10 s","x":0.754,"y":1.0,"lo":0.97,"hi":1.03},{"s":"10 s","x":0.811,"y":0.99,"lo":0.96,"hi":1.02},{"s":"10 s","x":0.868,"y":1.0,"lo":0.97,"hi":1.03},{"s":"10 s","x":0.925,"y":0.96,"lo":0.93,"hi":0.99},{"s":"10 s","x":0.982,"y":0.99,"lo":0.96,"hi":1.02},{"s":"10 s","x":1.040,"y":1.0,"lo":0.97,"hi":1.03},{"s":"10 s","x":1.097,"y":1.02,"lo":0.99,"hi":1.05},
{"s":"30 s","x":0.010,"y":3.55,"lo":3.35,"hi":3.75},{"s":"30 s","x":0.067,"y":3.45,"lo":3.27,"hi":3.63},{"s":"30 s","x":0.124,"y":2.82,"lo":2.70,"hi":2.94},{"s":"30 s","x":0.182,"y":2.09,"lo":1.99,"hi":2.19},{"s":"30 s","x":0.239,"y":1.38,"lo":1.30,"hi":1.46},{"s":"30 s","x":0.296,"y":1.02,"lo":0.96,"hi":1.08},{"s":"30 s","x":0.353,"y":0.85,"lo":0.80,"hi":0.90},{"s":"30 s","x":0.410,"y":0.87,"lo":0.83,"hi":0.91},{"s":"30 s","x":0.468,"y":0.9,"lo":0.87,"hi":0.93},{"s":"30 s","x":0.525,"y":0.93,"lo":0.90,"hi":0.96},{"s":"30 s","x":0.582,"y":0.95,"lo":0.92,"hi":0.98},{"s":"30 s","x":0.639,"y":0.97,"lo":0.94,"hi":1.0},{"s":"30 s","x":0.696,"y":0.98,"lo":0.95,"hi":1.01},{"s":"30 s","x":0.754,"y":1.0,"lo":0.97,"hi":1.03},{"s":"30 s","x":0.811,"y":1.0,"lo":0.97,"hi":1.03},{"s":"30 s","x":0.868,"y":1.0,"lo":0.97,"hi":1.03},{"s":"30 s","x":0.925,"y":0.99,"lo":0.96,"hi":1.02},{"s":"30 s","x":0.982,"y":1.0,"lo":0.97,"hi":1.03},{"s":"30 s","x":1.040,"y":1.0,"lo":0.97,"hi":1.03},{"s":"30 s","x":1.097,"y":1.02,"lo":0.99,"hi":1.05},
{"s":"60 s","x":0.010,"y":3.6,"lo":3.30,"hi":3.95},{"s":"60 s","x":0.067,"y":3.06,"lo":2.86,"hi":3.26},{"s":"60 s","x":0.124,"y":2.69,"lo":2.54,"hi":2.84},{"s":"60 s","x":0.182,"y":2.37,"lo":2.23,"hi":2.51},{"s":"60 s","x":0.239,"y":1.94,"lo":1.84,"hi":2.04},{"s":"60 s","x":0.296,"y":1.52,"lo":1.45,"hi":1.59},{"s":"60 s","x":0.353,"y":1.09,"lo":1.04,"hi":1.14},{"s":"60 s","x":0.410,"y":0.92,"lo":0.88,"hi":0.96},{"s":"60 s","x":0.468,"y":0.89,"lo":0.86,"hi":0.92},{"s":"60 s","x":0.525,"y":0.82,"lo":0.79,"hi":0.85},{"s":"60 s","x":0.582,"y":0.83,"lo":0.80,"hi":0.86},{"s":"60 s","x":0.639,"y":0.84,"lo":0.81,"hi":0.87},{"s":"60 s","x":0.696,"y":0.89,"lo":0.86,"hi":0.92},{"s":"60 s","x":0.754,"y":0.92,"lo":0.89,"hi":0.95},{"s":"60 s","x":0.811,"y":0.89,"lo":0.86,"hi":0.92},{"s":"60 s","x":0.868,"y":0.93,"lo":0.90,"hi":0.96},{"s":"60 s","x":0.925,"y":0.93,"lo":0.90,"hi":0.96},{"s":"60 s","x":0.982,"y":0.93,"lo":0.90,"hi":0.96},{"s":"60 s","x":1.040,"y":0.95,"lo":0.92,"hi":0.98},{"s":"60 s","x":1.097,"y":1.03,"lo":1.00,"hi":1.06}
],
"D": [
{"s":"5 min","x":0.01,"y":2.16,"lo":1.81,"hi":2.51},{"s":"5 min","x":0.06,"y":2.45,"lo":2.29,"hi":2.61},{"s":"5 min","x":0.11,"y":2.33,"lo":2.21,"hi":2.45},{"s":"5 min","x":0.16,"y":2.28,"lo":2.17,"hi":2.39},{"s":"5 min","x":0.21,"y":2.2,"lo":2.11,"hi":2.29},{"s":"5 min","x":0.26,"y":2.02,"lo":1.94,"hi":2.10},{"s":"5 min","x":0.31,"y":1.84,"lo":1.77,"hi":1.91},{"s":"5 min","x":0.36,"y":1.7,"lo":1.64,"hi":1.76},{"s":"5 min","x":0.41,"y":1.46,"lo":1.40,"hi":1.52},{"s":"5 min","x":0.46,"y":1.31,"lo":1.26,"hi":1.36},{"s":"5 min","x":0.51,"y":1.24,"lo":1.20,"hi":1.28},{"s":"5 min","x":0.56,"y":1.19,"lo":1.15,"hi":1.23},{"s":"5 min","x":0.61,"y":1.13,"lo":1.09,"hi":1.17},{"s":"5 min","x":0.66,"y":1.06,"lo":1.02,"hi":1.10},{"s":"5 min","x":0.71,"y":1.0,"lo":0.96,"hi":1.04},{"s":"5 min","x":0.76,"y":0.95,"lo":0.91,"hi":0.99},{"s":"5 min","x":0.81,"y":0.91,"lo":0.87,"hi":0.95},{"s":"5 min","x":0.86,"y":0.89,"lo":0.85,"hi":0.93},{"s":"5 min","x":0.91,"y":0.87,"lo":0.83,"hi":0.91},{"s":"5 min","x":0.96,"y":0.85,"lo":0.81,"hi":0.89},{"s":"5 min","x":1.01,"y":0.84,"lo":0.80,"hi":0.88},{"s":"5 min","x":1.06,"y":0.83,"lo":0.79,"hi":0.87},{"s":"5 min","x":1.11,"y":0.8,"lo":0.75,"hi":0.85},{"s":"5 min","x":1.16,"y":0.82,"lo":0.77,"hi":0.87},{"s":"5 min","x":1.21,"y":0.86,"lo":0.81,"hi":0.91},{"s":"5 min","x":1.26,"y":0.87,"lo":0.82,"hi":0.92},{"s":"5 min","x":1.31,"y":0.9,"lo":0.85,"hi":0.95},{"s":"5 min","x":1.36,"y":0.91,"lo":0.86,"hi":0.96},{"s":"5 min","x":1.41,"y":0.89,"lo":0.84,"hi":0.94},{"s":"5 min","x":1.46,"y":0.92,"lo":0.87,"hi":0.97},{"s":"5 min","x":1.51,"y":0.92,"lo":0.87,"hi":0.97},
{"s":"10 min","x":0.01,"y":1.79,"lo":1.65,"hi":1.93},{"s":"10 min","x":0.06,"y":1.67,"lo":1.57,"hi":1.77},{"s":"10 min","x":0.11,"y":1.74,"lo":1.66,"hi":1.82},{"s":"10 min","x":0.16,"y":1.72,"lo":1.64,"hi":1.80},{"s":"10 min","x":0.21,"y":1.7,"lo":1.63,"hi":1.77},{"s":"10 min","x":0.26,"y":1.62,"lo":1.55,"hi":1.69},{"s":"10 min","x":0.31,"y":1.57,"lo":1.51,"hi":1.63},{"s":"10 min","x":0.36,"y":1.52,"lo":1.46,"hi":1.58},{"s":"10 min","x":0.41,"y":1.46,"lo":1.41,"hi":1.51},{"s":"10 min","x":0.46,"y":1.34,"lo":1.29,"hi":1.39},{"s":"10 min","x":0.51,"y":1.25,"lo":1.21,"hi":1.29},{"s":"10 min","x":0.56,"y":1.19,"lo":1.15,"hi":1.23},{"s":"10 min","x":0.61,"y":1.16,"lo":1.12,"hi":1.20},{"s":"10 min","x":0.66,"y":1.13,"lo":1.09,"hi":1.17},{"s":"10 min","x":0.71,"y":1.09,"lo":1.05,"hi":1.13},{"s":"10 min","x":0.76,"y":1.06,"lo":1.02,"hi":1.10},{"s":"10 min","x":0.81,"y":1.04,"lo":1.00,"hi":1.08},{"s":"10 min","x":0.86,"y":1.02,"lo":0.98,"hi":1.06},{"s":"10 min","x":0.91,"y":1.0,"lo":0.96,"hi":1.04},{"s":"10 min","x":0.96,"y":0.98,"lo":0.94,"hi":1.02},{"s":"10 min","x":1.01,"y":0.96,"lo":0.92,"hi":1.00},{"s":"10 min","x":1.06,"y":0.95,"lo":0.91,"hi":0.99},{"s":"10 min","x":1.11,"y":0.95,"lo":0.91,"hi":0.99},{"s":"10 min","x":1.16,"y":0.94,"lo":0.90,"hi":0.98},{"s":"10 min","x":1.21,"y":0.94,"lo":0.90,"hi":0.98},{"s":"10 min","x":1.26,"y":0.93,"lo":0.89,"hi":0.97},{"s":"10 min","x":1.31,"y":0.93,"lo":0.89,"hi":0.97},{"s":"10 min","x":1.36,"y":0.92,"lo":0.88,"hi":0.96},{"s":"10 min","x":1.41,"y":0.93,"lo":0.89,"hi":0.97},{"s":"10 min","x":1.46,"y":0.92,"lo":0.88,"hi":0.96},{"s":"10 min","x":1.51,"y":0.92,"lo":0.88,"hi":0.96},
{"s":"15 min","x":0.01,"y":1.38,"lo":1.30,"hi":1.46},{"s":"15 min","x":0.06,"y":1.33,"lo":1.26,"hi":1.40},{"s":"15 min","x":0.11,"y":1.37,"lo":1.31,"hi":1.43},{"s":"15 min","x":0.16,"y":1.4,"lo":1.34,"hi":1.46},{"s":"15 min","x":0.21,"y":1.38,"lo":1.33,"hi":1.43},{"s":"15 min","x":0.26,"y":1.33,"lo":1.28,"hi":1.38},{"s":"15 min","x":0.31,"y":1.3,"lo":1.25,"hi":1.35},{"s":"15 min","x":0.36,"y":1.27,"lo":1.22,"hi":1.32},{"s":"15 min","x":0.41,"y":1.21,"lo":1.16,"hi":1.26},{"s":"15 min","x":0.46,"y":1.19,"lo":1.14,"hi":1.24},{"s":"15 min","x":0.51,"y":1.18,"lo":1.14,"hi":1.22},{"s":"15 min","x":0.56,"y":1.15,"lo":1.11,"hi":1.19},{"s":"15 min","x":0.61,"y":1.12,"lo":1.08,"hi":1.16},{"s":"15 min","x":0.66,"y":1.1,"lo":1.06,"hi":1.14},{"s":"15 min","x":0.71,"y":1.08,"lo":1.04,"hi":1.12},{"s":"15 min","x":0.76,"y":1.05,"lo":1.01,"hi":1.09},{"s":"15 min","x":0.81,"y":1.03,"lo":0.99,"hi":1.07},{"s":"15 min","x":0.86,"y":1.0,"lo":0.96,"hi":1.04},{"s":"15 min","x":0.91,"y":0.97,"lo":0.93,"hi":1.01},{"s":"15 min","x":0.96,"y":0.95,"lo":0.91,"hi":0.99},{"s":"15 min","x":1.01,"y":0.94,"lo":0.90,"hi":0.98},{"s":"15 min","x":1.06,"y":0.93,"lo":0.89,"hi":0.97},{"s":"15 min","x":1.11,"y":0.92,"lo":0.88,"hi":0.96},{"s":"15 min","x":1.16,"y":0.91,"lo":0.87,"hi":0.95},{"s":"15 min","x":1.21,"y":0.92,"lo":0.88,"hi":0.96},{"s":"15 min","x":1.26,"y":0.94,"lo":0.90,"hi":0.98},{"s":"15 min","x":1.31,"y":0.94,"lo":0.90,"hi":0.98},{"s":"15 min","x":1.36,"y":0.93,"lo":0.89,"hi":0.97},{"s":"15 min","x":1.41,"y":0.93,"lo":0.89,"hi":0.97},{"s":"15 min","x":1.46,"y":0.94,"lo":0.90,"hi":0.98},{"s":"15 min","x":1.51,"y":0.95,"lo":0.91,"hi":0.99},
{"s":"20 min","x":0.01,"y":1.33,"lo":1.01,"hi":1.65},{"s":"20 min","x":0.06,"y":1.3,"lo":1.15,"hi":1.45},{"s":"20 min","x":0.11,"y":1.27,"lo":1.19,"hi":1.35},{"s":"20 min","x":0.16,"y":1.23,"lo":1.17,"hi":1.29},{"s":"20 min","x":0.21,"y":1.2,"lo":1.15,"hi":1.25},{"s":"20 min","x":0.26,"y":1.15,"lo":1.11,"hi":1.19},{"s":"20 min","x":0.31,"y":1.13,"lo":1.09,"hi":1.17},{"s":"20 min","x":0.36,"y":1.12,"lo":1.08,"hi":1.16},{"s":"20 min","x":0.41,"y":1.11,"lo":1.07,"hi":1.15},{"s":"20 min","x":0.46,"y":1.12,"lo":1.08,"hi":1.16},{"s":"20 min","x":0.51,"y":1.13,"lo":1.09,"hi":1.17},{"s":"20 min","x":0.56,"y":1.1,"lo":1.06,"hi":1.14},{"s":"20 min","x":0.61,"y":1.07,"lo":1.03,"hi":1.11},{"s":"20 min","x":0.66,"y":1.08,"lo":1.04,"hi":1.12},{"s":"20 min","x":0.71,"y":1.07,"lo":1.03,"hi":1.11},{"s":"20 min","x":0.76,"y":1.05,"lo":1.01,"hi":1.09},{"s":"20 min","x":0.81,"y":1.04,"lo":1.00,"hi":1.08},{"s":"20 min","x":0.86,"y":1.02,"lo":0.98,"hi":1.06},{"s":"20 min","x":0.91,"y":1.01,"lo":0.97,"hi":1.05},{"s":"20 min","x":0.96,"y":0.99,"lo":0.95,"hi":1.03},{"s":"20 min","x":1.01,"y":0.97,"lo":0.93,"hi":1.01},{"s":"20 min","x":1.06,"y":0.96,"lo":0.92,"hi":1.00},{"s":"20 min","x":1.11,"y":0.95,"lo":0.91,"hi":0.99},{"s":"20 min","x":1.16,"y":0.95,"lo":0.91,"hi":0.99},{"s":"20 min","x":1.21,"y":0.95,"lo":0.91,"hi":0.99},{"s":"20 min","x":1.26,"y":0.95,"lo":0.91,"hi":0.99},{"s":"20 min","x":1.31,"y":0.94,"lo":0.90,"hi":0.98},{"s":"20 min","x":1.36,"y":0.96,"lo":0.92,"hi":1.00},{"s":"20 min","x":1.41,"y":0.95,"lo":0.91,"hi":0.99},{"s":"20 min","x":1.46,"y":0.96,"lo":0.92,"hi":1.00},{"s":"20 min","x":1.51,"y":0.97,"lo":0.93,"hi":1.01}
],
"Ef": [
{"s":"5 min","x":0,"y":2.87},{"s":"5 min","x":0.2,"y":2.78},{"s":"5 min","x":0.4,"y":2.45},{"s":"5 min","x":0.6,"y":1.95},{"s":"5 min","x":0.8,"y":1.35},{"s":"5 min","x":1.0,"y":0.85},{"s":"5 min","x":1.2,"y":0.48},{"s":"5 min","x":1.4,"y":0.26},{"s":"5 min","x":1.6,"y":0.13},{"s":"5 min","x":1.8,"y":0.07},{"s":"5 min","x":2.0,"y":0.04},{"s":"5 min","x":2.4,"y":0.02},{"s":"5 min","x":3.0,"y":0.02},
{"s":"10 min","x":0,"y":1.55},{"s":"10 min","x":0.2,"y":1.52},{"s":"10 min","x":0.4,"y":1.4},{"s":"10 min","x":0.6,"y":1.22},{"s":"10 min","x":0.8,"y":1.02},{"s":"10 min","x":1.0,"y":0.81},{"s":"10 min","x":1.2,"y":0.62},{"s":"10 min","x":1.4,"y":0.46},{"s":"10 min","x":1.6,"y":0.33},{"s":"10 min","x":1.8,"y":0.22},{"s":"10 min","x":2.0,"y":0.15},{"s":"10 min","x":2.4,"y":0.08},{"s":"10 min","x":3.0,"y":0.04},
{"s":"15 min","x":0,"y":0.93},{"s":"15 min","x":0.2,"y":0.91},{"s":"15 min","x":0.4,"y":0.86},{"s":"15 min","x":0.6,"y":0.78},{"s":"15 min","x":0.8,"y":0.69},{"s":"15 min","x":1.0,"y":0.6},{"s":"15 min","x":1.2,"y":0.5},{"s":"15 min","x":1.4,"y":0.41},{"s":"15 min","x":1.6,"y":0.32},{"s":"15 min","x":1.8,"y":0.25},{"s":"15 min","x":2.0,"y":0.19},{"s":"15 min","x":2.4,"y":0.11},{"s":"15 min","x":3.0,"y":0.05},
{"s":"20 min","x":0,"y":0.69},{"s":"20 min","x":0.2,"y":0.67},{"s":"20 min","x":0.4,"y":0.63},{"s":"20 min","x":0.6,"y":0.58},{"s":"20 min","x":0.8,"y":0.52},{"s":"20 min","x":1.0,"y":0.46},{"s":"20 min","x":1.2,"y":0.4},{"s":"20 min","x":1.4,"y":0.33},{"s":"20 min","x":1.6,"y":0.27},{"s":"20 min","x":1.8,"y":0.22},{"s":"20 min","x":2.0,"y":0.17},{"s":"20 min","x":2.4,"y":0.11},{"s":"20 min","x":3.0,"y":0.06}
],
"Ed": [
{"s":"5 min","x":0.03,"y":2.1},{"s":"5 min","x":0.07,"y":2.65},{"s":"5 min","x":0.12,"y":3.25},{"s":"5 min","x":0.17,"y":3.05},{"s":"5 min","x":0.22,"y":2.9},{"s":"5 min","x":0.27,"y":2.92},{"s":"5 min","x":0.32,"y":2.85},{"s":"5 min","x":0.37,"y":2.6},{"s":"5 min","x":0.42,"y":2.5},{"s":"5 min","x":0.47,"y":2.22},{"s":"5 min","x":0.52,"y":2.2},{"s":"5 min","x":0.57,"y":2.05},{"s":"5 min","x":0.62,"y":1.9},{"s":"5 min","x":0.67,"y":1.8},{"s":"5 min","x":0.72,"y":1.6},{"s":"5 min","x":0.77,"y":1.45},{"s":"5 min","x":0.82,"y":1.4},{"s":"5 min","x":0.87,"y":1.2},{"s":"5 min","x":0.92,"y":1.0},{"s":"5 min","x":0.97,"y":0.95},{"s":"5 min","x":1.02,"y":0.75},{"s":"5 min","x":1.07,"y":0.65},{"s":"5 min","x":1.12,"y":0.55},{"s":"5 min","x":1.17,"y":0.45},{"s":"5 min","x":1.22,"y":0.4},{"s":"5 min","x":1.3,"y":0.3},{"s":"5 min","x":1.4,"y":0.2},{"s":"5 min","x":1.5,"y":0.15},{"s":"5 min","x":1.6,"y":0.12},{"s":"5 min","x":1.7,"y":0.1},{"s":"5 min","x":1.8,"y":0.08},{"s":"5 min","x":1.9,"y":0.06},{"s":"5 min","x":2.0,"y":0.05},{"s":"5 min","x":2.1,"y":0.06},{"s":"5 min","x":2.2,"y":0.04},{"s":"5 min","x":2.3,"y":0.05},{"s":"5 min","x":2.4,"y":0.04},
{"s":"10 min","x":0.03,"y":1.8},{"s":"10 min","x":0.07,"y":1.45},{"s":"10 min","x":0.12,"y":1.55},{"s":"10 min","x":0.17,"y":1.6},{"s":"10 min","x":0.22,"y":1.62},{"s":"10 min","x":0.27,"y":1.6},{"s":"10 min","x":0.32,"y":1.62},{"s":"10 min","x":0.37,"y":1.55},{"s":"10 min","x":0.42,"y":1.45},{"s":"10 min","x":0.47,"y":1.3},{"s":"10 min","x":0.52,"y":1.25},{"s":"10 min","x":0.57,"y":1.15},{"s":"10 min","x":0.62,"y":1.15},{"s":"10 min","x":0.67,"y":1.0},{"s":"10 min","x":0.72,"y":0.95},{"s":"10 min","x":0.77,"y":0.9},{"s":"10 min","x":0.82,"y":0.85},{"s":"10 min","x":0.87,"y":0.75},{"s":"10 min","x":0.92,"y":0.8},{"s":"10 min","x":0.97,"y":0.7},{"s":"10 min","x":1.02,"y":0.65},{"s":"10 min","x":1.1,"y":0.55},{"s":"10 min","x":1.2,"y":0.48},{"s":"10 min","x":1.3,"y":0.42},{"s":"10 min","x":1.4,"y":0.33},{"s":"10 min","x":1.5,"y":0.28},{"s":"10 min","x":1.6,"y":0.25},{"s":"10 min","x":1.7,"y":0.2},{"s":"10 min","x":1.8,"y":0.17},{"s":"10 min","x":1.9,"y":0.15},{"s":"10 min","x":2.0,"y":0.12},{"s":"10 min","x":2.2,"y":0.1},{"s":"10 min","x":2.4,"y":0.08},
{"s":"15 min","x":0.03,"y":0.9},{"s":"15 min","x":0.07,"y":1.0},{"s":"15 min","x":0.12,"y":0.85},{"s":"15 min","x":0.17,"y":0.95},{"s":"15 min","x":0.22,"y":0.9},{"s":"15 min","x":0.27,"y":1.05},{"s":"15 min","x":0.32,"y":0.8},{"s":"15 min","x":0.37,"y":0.95},{"s":"15 min","x":0.42,"y":0.85},{"s":"15 min","x":0.47,"y":0.85},{"s":"15 min","x":0.52,"y":0.8},{"s":"15 min","x":0.57,"y":0.85},{"s":"15 min","x":0.62,"y":0.75},{"s":"15 min","x":0.67,"y":0.72},{"s":"15 min","x":0.72,"y":0.7},{"s":"15 min","x":0.8,"y":0.65},{"s":"15 min","x":0.9,"y":0.62},{"s":"15 min","x":1.0,"y":0.55},{"s":"15 min","x":1.1,"y":0.5},{"s":"15 min","x":1.2,"y":0.48},{"s":"15 min","x":1.3,"y":0.4},{"s":"15 min","x":1.4,"y":0.38},{"s":"15 min","x":1.5,"y":0.33},{"s":"15 min","x":1.6,"y":0.3},{"s":"15 min","x":1.7,"y":0.27},{"s":"15 min","x":1.8,"y":0.22},{"s":"15 min","x":1.9,"y":0.2},{"s":"15 min","x":2.0,"y":0.17},{"s":"15 min","x":2.2,"y":0.14},{"s":"15 min","x":2.4,"y":0.12},{"s":"15 min","x":2.6,"y":0.1},{"s":"15 min","x":2.8,"y":0.07},
{"s":"20 min","x":0.03,"y":0.75},{"s":"20 min","x":0.07,"y":0.6},{"s":"20 min","x":0.12,"y":0.78},{"s":"20 min","x":0.17,"y":0.72},{"s":"20 min","x":0.22,"y":0.62},{"s":"20 min","x":0.27,"y":0.7},{"s":"20 min","x":0.32,"y":0.55},{"s":"20 min","x":0.37,"y":0.45},{"s":"20 min","x":0.42,"y":0.5},{"s":"20 min","x":0.47,"y":0.42},{"s":"20 min","x":0.52,"y":0.58},{"s":"20 min","x":0.57,"y":0.45},{"s":"20 min","x":0.62,"y":0.52},{"s":"20 min","x":0.67,"y":0.42},{"s":"20 min","x":0.72,"y":0.5},{"s":"20 min","x":0.8,"y":0.42},{"s":"20 min","x":0.9,"y":0.4},{"s":"20 min","x":1.0,"y":0.45},{"s":"20 min","x":1.1,"y":0.32},{"s":"20 min","x":1.2,"y":0.38},{"s":"20 min","x":1.3,"y":0.3},{"s":"20 min","x":1.4,"y":0.27},{"s":"20 min","x":1.5,"y":0.3},{"s":"20 min","x":1.6,"y":0.22},{"s":"20 min","x":1.7,"y":0.25},{"s":"20 min","x":1.8,"y":0.18},{"s":"20 min","x":1.9,"y":0.17},{"s":"20 min","x":2.0,"y":0.15},{"s":"20 min","x":2.2,"y":0.14},{"s":"20 min","x":2.4,"y":0.12},{"s":"20 min","x":2.6,"y":0.1},{"s":"20 min","x":2.8,"y":0.08}
]
},
"config": {
 "font": "Liberation Sans",
 "view": {"stroke": null},
 "axis": {"labelFontSize": 24, "titleFontSize": 25, "titleFontWeight": "normal", "labelColor": "#000000", "titleColor": "#000000", "grid": false, "ticks": false, "domainColor": "#333333", "domainWidth": 1, "labelFlush": false, "labelOverlap": false},
 "title": {"fontSize": 26, "fontWeight": "normal", "color": "#000000", "anchor": "middle"},
 "legend": {"labelFontSize": 24, "labelColor": "#000000", "padding": 0},
 "text": {"color": "#000000"}
}
}
